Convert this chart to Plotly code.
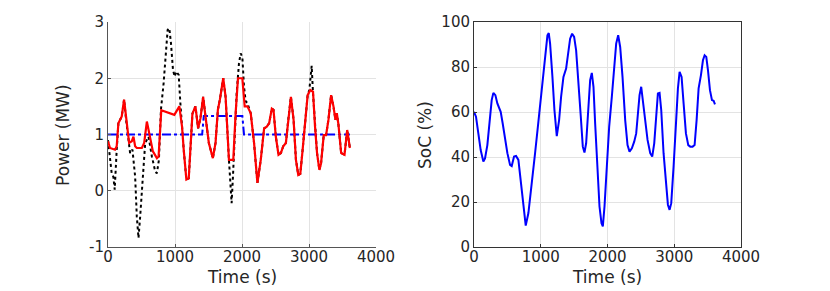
import plotly.graph_objects as go

# red: battery/generator power (MW)
t_red = [0, 30, 105, 130, 155, 205, 240, 270, 315, 355, 380, 405, 430, 505, 540, 580, 620, 670,
         730, 755, 795, 880, 990, 1065, 1105, 1130, 1170, 1205, 1230, 1260, 1305, 1345, 1380,
         1420, 1455, 1505, 1565, 1605, 1640, 1670, 1720, 1755, 1805, 1870, 1905, 1940, 2005,
         2040, 2080, 2130, 2180, 2230, 2280, 2330, 2370, 2405, 2445, 2470, 2505, 2545, 2580,
         2615, 2655, 2690, 2730, 2770, 2805, 2840, 2870, 2905, 2940, 2980, 3020, 3060, 3090,
         3120, 3155, 3180, 3220, 3255, 3290, 3330, 3365, 3395, 3415, 3440, 3480, 3530, 3570, 3610]
p_red = [0.88, 0.76, 0.73, 0.79, 1.20, 1.32, 1.62, 1.26, 0.85, 0.88, 0.96, 0.79, 0.76, 0.76, 0.85,
         1.23, 0.99, 0.70, 0.58, 0.61, 1.43, 1.39, 1.35, 1.50, 1.14, 0.73, 0.20, 0.22, 0.73, 1.37,
         1.50, 1.11, 1.29, 1.67, 1.32, 0.85, 0.58, 0.85, 1.44, 1.62, 2.00, 1.67, 0.55, 0.55, 1.38,
         2.00, 2.00, 1.50, 1.50, 1.38, 0.85, 0.14, 0.55, 1.11, 1.14, 1.20, 1.46, 1.44, 0.96, 0.64,
         0.67, 0.79, 0.85, 1.26, 1.67, 1.26, 0.55, 0.28, 0.30, 0.73, 1.20, 1.70, 1.79, 1.76, 1.14,
         0.67, 0.37, 0.49, 0.99, 0.99, 1.26, 1.70, 1.50, 1.26, 1.38, 1.17, 0.67, 0.64, 1.08, 0.76]

# black dotted: load power (MW)
t_load = [0, 30, 55, 80, 100, 130, 155, 205, 240, 270, 330, 365, 405, 430, 455, 480, 520, 555,
          605, 655, 705, 730, 760, 790, 830, 865, 890, 915, 940, 970, 995, 1020, 1055, 1080,
          1105, 1130, 1170, 1205, 1230, 1260, 1305, 1345, 1380, 1420, 1455, 1505, 1565, 1605,
          1640, 1670, 1720, 1755, 1805, 1830, 1845, 1865, 1890, 1920, 1955, 1980, 2005, 2030,
          2055, 2080, 2130, 2180, 2230, 2280, 2330, 2370, 2405, 2445, 2470, 2505, 2545, 2580,
          2615, 2655, 2690, 2730, 2770, 2805, 2840, 2870, 2905, 2940, 2980, 3005, 3020, 3040,
          3060, 3090, 3120, 3155, 3180, 3220, 3255, 3290, 3330, 3365, 3395, 3415, 3440, 3480,
          3530, 3570, 3610]
p_load = [0.90, 0.60, 0.31, 0.25, 0.02, 0.73, 1.20, 1.32, 1.62, 1.26, 0.67, 0.73, 0.25, -0.46,
          -0.84, -0.46, 0.25, 0.85, 0.96, 0.61, 0.34, 0.31, 0.55, 1.44, 1.91, 2.50, 2.86, 2.89,
          2.62, 2.15, 2.03, 2.12, 2.06, 1.56, 1.08, 0.73, 0.20, 0.22, 0.73, 1.37, 1.50, 1.11,
          1.29, 1.67, 1.32, 0.85, 0.58, 0.85, 1.44, 1.62, 2.00, 1.67, 0.55, 0.02, -0.22, 0.25,
          0.85, 1.73, 2.27, 2.44, 2.38, 1.85, 1.59, 1.56, 1.38, 0.85, 0.14, 0.55, 1.11, 1.14,
          1.20, 1.46, 1.44, 0.96, 0.64, 0.67, 0.79, 0.85, 1.26, 1.67, 1.26, 0.55, 0.28, 0.30,
          0.73, 1.20, 1.70, 1.79, 2.03, 2.22, 1.73, 1.14, 0.67, 0.37, 0.49, 0.99, 0.99, 1.26,
          1.70, 1.50, 1.26, 1.38, 1.17, 0.67, 0.64, 1.08, 0.76]

# blue dash-dot: setpoint (MW)
t_set = [0, 1405, 1430, 2005, 2030, 3610]
p_set = [1.0, 1.0, 1.33, 1.33, 1.0, 1.0]

# state of charge (%)
t_soc = [0, 30, 65, 100, 140, 165, 200, 230, 265, 290, 320, 350, 380, 400, 430, 465, 500, 540,
         565, 600, 630, 665, 705, 740, 775, 815, 865, 915, 965, 1015, 1065, 1100, 1120, 1140,
         1175, 1205, 1240, 1275, 1305, 1340, 1380, 1415, 1440, 1470, 1500, 1530, 1565, 1600,
         1630, 1655, 1680, 1715, 1740, 1765, 1790, 1815, 1850, 1880, 1910, 1930, 1955, 1990,
         2025, 2065, 2100, 2130, 2160, 2190, 2225, 2265, 2300, 2330, 2365, 2400, 2430, 2455,
         2480, 2505, 2530, 2565, 2600, 2640, 2670, 2700, 2730, 2755, 2780, 2805, 2840, 2875,
         2905, 2930, 2955, 2990, 3025, 3055, 3080, 3110, 3140, 3175, 3210, 3240, 3275, 3305,
         3335, 3365, 3400, 3430, 3455, 3480, 3505, 3535, 3565, 3590, 3610]
soc = [60.1, 57.9, 50.5, 43.1, 38.0, 39.4, 45.3, 53.5, 65.3, 68.5, 67.5, 63.8, 61.6, 60.1, 54.9,
       47.6, 41.7, 36.5, 36.0, 40.2, 40.5, 38.7, 28.4, 18.0, 9.5, 15.1, 29.8, 41.7, 55.7, 69.0,
       84.5, 94.1, 95.1, 90.4, 75.6, 60.9, 49.3, 56.4, 66.8, 75.6, 79.3, 87.4, 92.6, 94.8, 93.4,
       87.4, 74.2, 57.9, 44.6, 42.0, 46.1, 62.3, 74.2, 77.4, 71.2, 54.9, 34.3, 18.0, 10.6, 9.2,
       18.0, 37.2, 53.5, 66.8, 80.1, 90.4, 94.1, 88.9, 75.6, 56.4, 45.3, 42.4, 43.9, 46.8, 50.5,
       57.9, 67.5, 71.2, 65.3, 56.4, 47.6, 41.7, 40.2, 46.1, 57.9, 68.2, 68.5, 60.9, 41.7, 26.9,
       18.8, 16.5, 19.5, 35.7, 54.9, 70.5, 77.8, 75.6, 63.8, 50.5, 45.3, 44.6, 44.6, 45.3, 56.4,
       70.5, 76.4, 83.0, 85.2, 84.5, 78.6, 69.7, 65.3, 65.0, 63.4]

time_ticks = [0, 1000, 2000, 3000, 4000]
power_ticks = [-1, 0, 1, 2, 3]
soc_ticks = [0, 20, 40, 60, 80, 100]

FONT = "DejaVu Sans"
TEXT = "#262626"
GRID = "#E3E3E3"

# the page body keeps its default 8px margin, so the figure is drawn 8px in
W, H, PAD = 822, 283, 8


def px_x(p):
    return (p - PAD) / W


def px_y(p):
    return 1 - (p - PAD) / H


fig = go.Figure()
fig.add_trace(go.Scatter(x=t_load, y=p_load, mode="lines",
                         line=dict(color="black", width=2, dash="dot"), xaxis="x", yaxis="y"))
fig.add_trace(go.Scatter(x=t_set, y=p_set, mode="lines",
                         line=dict(color="#0000FF", width=2, dash="dashdot"), xaxis="x", yaxis="y"))
fig.add_trace(go.Scatter(x=t_red, y=p_red, mode="lines",
                         line=dict(color="#FF0000", width=2.2), xaxis="x", yaxis="y"))
fig.add_trace(go.Scatter(x=t_soc, y=soc, mode="lines",
                         line=dict(color="#0000FF", width=2), xaxis="x2", yaxis="y2"))


def axis(domain, rng, ticks, anchor, line, mirror, standoff=0):
    # plain hyphen for negatives, like the MATLAB original
    return dict(domain=domain, range=rng, anchor=anchor, automargin=False,
                tickmode="array", tickvals=ticks, ticktext=[str(v) for v in ticks],
                tickfont=dict(family=FONT, size=15, color=TEXT), ticklabelstandoff=standoff,
                showgrid=True, gridcolor=GRID, gridwidth=1, zeroline=False,
                showline=True, linecolor=line, linewidth=1, mirror=mirror,
                ticks="inside", ticklen=3, tickcolor=line)


ydom = [px_y(247), px_y(22)]
fig.update_layout(
    width=W, height=H,
    paper_bgcolor="white", plot_bgcolor="white",
    showlegend=False,
    margin=dict(l=0, r=0, t=0, b=0),
    xaxis=axis([px_x(108), px_x(376)], [0, 4000], time_ticks, "y", "#555555", False, -4),
    yaxis=axis(ydom, [-1, 3], power_ticks, "x", "#555555", False),
    xaxis2=axis([px_x(474), px_x(741)], [0, 4000], time_ticks, "y2", "#333333", True, -4),
    yaxis2=axis(ydom, [0, 100], soc_ticks, "x2", "#333333", True),
)

title_font = dict(family=FONT, size=17, color=TEXT)
for x, text in [(242, "Time (s)"), (607, "Time (s)")]:
    fig.add_annotation(text=text, x=px_x(x), y=px_y(277), xref="paper", yref="paper",
                       showarrow=False, font=title_font, xanchor="center", yanchor="middle")
for x, text in [(63, "Power (MW)"), (425, "SoC (%)")]:
    fig.add_annotation(text=text, x=px_x(x), y=px_y(135), xref="paper", yref="paper",
                       showarrow=False, font=title_font, textangle=-90,
                       xanchor="center", yanchor="middle")

fig.write_html("out.html")
